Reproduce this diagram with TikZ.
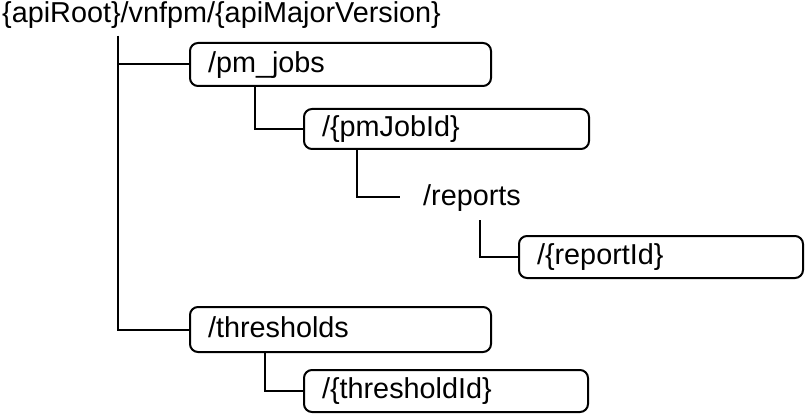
\documentclass[tikz,border=0pt]{standalone}
\usepackage{fontspec}
\setmainfont{Liberation Sans}
\newcommand\lbx[2]{\makebox[#1][l]{#2}}
\begin{document}
\begin{tikzpicture}[x=1pt,y=-1pt,
  font=\fontsize{28.8pt}{34pt}\selectfont,
  conn/.style={draw, line width=2pt},
  box/.style={draw, line width=2pt, rounded corners=8pt, anchor=north west,
    inner xsep=18pt, inner ysep=0pt,
    text height=21.6pt, text depth=5.8pt},
  plain/.style={inner xsep=0pt, inner ysep=0pt, anchor=base west}]
\useasboundingbox (0,0) rectangle (805,414);
\node[plain] (root) at (2,23) {\{apiRoot\}/vnfpm/\{apiMajorVersion\}};
\node[box, minimum height=43pt] (pm) at (189,42) {\lbx{265pt}{/pm\_jobs}};
\node[box, minimum height=40pt] (job) at (303,108) {\lbx{249pt}{/\{pmJobId\}}};
\node[plain, inner xsep=23pt, text height=21.6pt, text depth=5.8pt] (rep) at (400,205) {/reports};
\node[box, minimum height=42pt] (rid) at (518,235) {\lbx{248pt}{/\{reportId\}}};
\node[box, minimum height=45pt] (th) at (189,306) {\lbx{265pt}{/thresholds}};
\node[box, minimum height=42pt] (tid) at (303,369) {\lbx{248pt}{/\{thresholdId\}}};
\coordinate (trunk) at (118,36);
\draw[conn] (trunk) |- (pm.west);
\draw[conn] (trunk) |- (th.west);
\draw[conn] ([xshift=66pt]pm.south west) |- (job.west);
\draw[conn] ([xshift=54pt]job.south west) |- (rep.west);
\draw[conn] ([xshift=80pt,yshift=-9pt]rep.south west) |- (rid.west);
\draw[conn] ([xshift=76pt]th.south west) |- (tid.west);
\end{tikzpicture}
\end{document}
